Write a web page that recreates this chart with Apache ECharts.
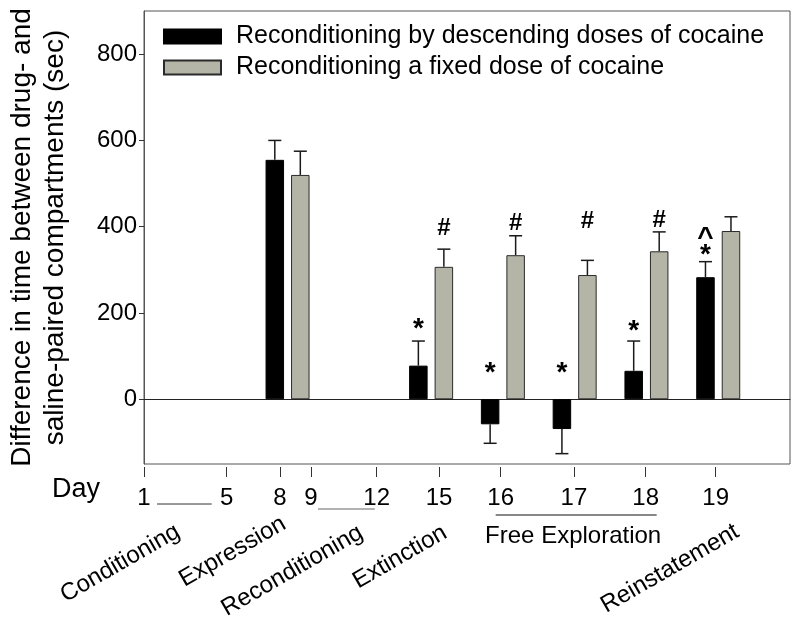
<!DOCTYPE html>
<html><head><meta charset="utf-8">
<script src="https://cdn.jsdelivr.net/npm/echarts@6/dist/echarts.min.js"></script>
<style>html,body{margin:0;padding:0;background:#fff}#c{width:800px;height:627px}</style>
</head><body><div id="c"></div>
<script>
// ---- data ----
const slots = ['', ' ', '8', '  ', '15', '16', '17', '18', '19', '   '];
const seriesNames = ['Reconditioning by descending doses of cocaine', 'Reconditioning a fixed dose of cocaine'];
const descending = [null, null, 555, null, 78, -58, -69, 66, 283, null];
const descErr    = [null, null, 45, null, 57, 44, 57, 69, 36, null];
const fixedDose  = [null, null, 520, null, 307, 334, 288, 343, 390, null];
const fixedErr   = [null, null, 55, null, 41, 45, 34, 45, 33, null];
const descMarkText = [null, null, null, null, '*', '*', '*', '*', '*', null];
const descMarkY    = [null, null, null, null, 173, 73, 73, 169, 345, null];
const caretText = [null, null, null, null, null, null, null, null, '^', null];
const caretY    = [null, null, null, null, null, null, null, null, 387, null];
const fixedMarkText = [null, null, null, null, '#', '#', '#', '#', null, null];
const fixedMarkY    = [null, null, null, null, 401, 413, 417, 420, null, null];
const yTicks = [0, 200, 400, 600, 800];
const dayTickPos = [0, 1.152, 1.895, 2.327, 3.242, 4.11, 4.969, 5.99, 6.989, 7.965];
const dayTickLabels = ['1', '5', '8', '9', '12', '15', '16', '17', '18', '19'];
const phaseLabels = ['Conditioning', 'Expression', 'Reconditioning', 'Extinction', 'Reinstatement'];
const groupLabel = 'Free Exploration';

// ---- styles ----
const FONT = "'Liberation Sans', Arial, Helvetica, sans-serif";
const BAR_W = 18.5, BAR_GAP = 7;
const OFF = (BAR_W + BAR_GAP) / 2;
const BLACK = '#000000', GRAY = '#b4b5a7';

function pairs(vals, extra) {
  const out = [];
  vals.forEach((v, i) => { if (v !== null) out.push(extra ? [i, v, extra[i]] : [i, v]); });
  return out;
}
function errRender(off) {
  return function (params, api) {
    const i = api.value(0), v = api.value(1), e = api.value(2);
    const a = api.coord([i, v]);
    const b = api.coord([i, v >= 0 ? v + e : v - e]);
    const x = a[0] + off;
    const st = { stroke: '#1a1a1a', lineWidth: 1.5 };
    return { type: 'group', children: [
      { type: 'line', shape: { x1: x, y1: a[1], x2: x, y2: b[1] }, style: st },
      { type: 'line', shape: { x1: x - 6.5, y1: b[1], x2: x + 6.5, y2: b[1] }, style: st }
    ]};
  };
}
function markRender(texts, off, size, dy) {
  const idx = [];
  texts.forEach((t, i) => { if (t !== null) idx.push(i); });
  return function (params, api) {
    const p = api.coord([api.value(0), api.value(1)]);
    return { type: 'text', x: p[0] + off, y: p[1] + dy, style: {
      text: texts[idx[params.dataIndex]], font: 'bold ' + size + 'px ' + FONT,
      fill: '#000', align: 'center', verticalAlign: 'middle' } };
  };
}

const chart = echarts.init(document.getElementById('c'), null, { renderer: 'canvas' });
const option = {
  animation: false,
  backgroundColor: '#fff',
  textStyle: { fontFamily: FONT },
  grid: { left: 144, right: 10, top: 11, bottom: 163, show: true, borderColor: '#555', borderWidth: 1,
    containLabel: false, outerBoundsMode: 'none' },
  legend: {
    orient: 'vertical', left: 163, top: 24, padding: 0, itemWidth: 57, itemHeight: 14, itemGap: 6,
    icon: 'rect', selectedMode: false,
    textStyle: { fontSize: 25, color: '#000', fontFamily: FONT, lineHeight: 25, padding: [0, 0, 0, 10] },
    data: seriesNames
  },
  xAxis: [{
    type: 'category', data: slots, boundaryGap: false,
    axisLine: { show: true, onZero: true, lineStyle: { color: '#222', width: 1 } },
    axisTick: { show: false }, axisLabel: { show: false }, splitLine: { show: false }
  }, {
    type: 'value', min: 0, max: 9, position: 'bottom', offset: 3,
    axisLine: { show: false }, splitLine: { show: false },
    axisTick: { show: true, length: 10, lineStyle: { color: '#333', width: 1 }, customValues: dayTickPos },
    axisLabel: { show: true, fontSize: 24, color: '#000', margin: 19, customValues: dayTickPos,
      formatter: function (v) { const k = dayTickPos.findIndex(p => Math.abs(p - v) < 1e-6); return k >= 0 ? dayTickLabels[k] : ''; } }
  }],
  yAxis: {
    type: 'value', min: -150, max: 900,
    name: 'Difference in time between drug- and\nsaline-paired compartments (sec)',
    nameLocation: 'middle', nameGap: 72,
    nameTextStyle: { fontSize: 28, color: '#000', lineHeight: 33, align: 'center' },
    axisLine: { show: true, lineStyle: { color: '#555' } },
    axisTick: { show: true, length: 5, inside: false, lineStyle: { color: '#333' }, customValues: yTicks },
    axisLabel: { fontSize: 24, color: '#000', margin: 7, customValues: yTicks },
    splitLine: { show: false }
  },
  series: [
    { name: seriesNames[0], type: 'bar', data: descending, barWidth: BAR_W, barGap: (BAR_GAP / BAR_W * 100) + '%',
      itemStyle: { color: BLACK, borderColor: '#000', borderWidth: 1 }, z: 2 },
    { name: seriesNames[1], type: 'bar', data: fixedDose, barWidth: BAR_W,
      itemStyle: { color: GRAY, borderColor: '#2a2a2a', borderWidth: 1 }, z: 2 },
    { type: 'custom', data: pairs(descending, descErr), renderItem: errRender(-OFF), z: 3, silent: true },
    { type: 'custom', data: pairs(fixedDose, fixedErr), renderItem: errRender(OFF), z: 3, silent: true },
    { type: 'custom', data: pairs(descMarkY), renderItem: markRender(descMarkText, -OFF, 28, 5), z: 4, silent: true },
    { type: 'custom', data: pairs(caretY), renderItem: markRender(caretText, -OFF, 28, 6), z: 4, silent: true },
    { type: 'custom', data: pairs(fixedMarkY), renderItem: markRender(fixedMarkText, OFF, 24, 2), z: 4, silent: true }
  ]
};
chart.setOption(option);

// ---- decorations below the axis, positioned from the day axis ----
function px(v) { return chart.convertToPixel({ xAxisIndex: 1 }, v); }
const tfont = '24px ' + FONT;
const g = [];
g.push({ type: 'text', x: 76, y: 490, style: { text: 'Day', font: '27px ' + FONT, fill: '#000', align: 'center', verticalAlign: 'middle' } });
g.push({ type: 'line', shape: { x1: px(dayTickPos[0]) + 13, y1: 504, x2: px(dayTickPos[1]) - 15, y2: 504 }, style: { stroke: '#333', lineWidth: 1 } });
g.push({ type: 'line', shape: { x1: px(dayTickPos[3]) + 7, y1: 509, x2: px(dayTickPos[4]) - 2, y2: 509 }, style: { stroke: '#666', lineWidth: 1.2 } });
g.push({ type: 'line', shape: { x1: px(dayTickPos[6]) - 5, y1: 515, x2: px(dayTickPos[8]) + 11, y2: 515 }, style: { stroke: '#888', lineWidth: 2 } });
g.push({ type: 'text', x: (px(dayTickPos[6]) + px(dayTickPos[8])) / 2, y: 536, style: { text: groupLabel, font: tfont, fill: '#000', align: 'center', verticalAlign: 'middle' } });
const phaseAnchors = [[178, 530], [284, 522], [361, 531], [445, 531], [737, 530]];
phaseLabels.forEach((t, k) => {
  g.push({ type: 'text', x: phaseAnchors[k][0], y: phaseAnchors[k][1], rotation: Math.PI / 6,
    style: { text: t, font: tfont, fill: '#000', align: 'right', verticalAlign: 'middle' } });
});
chart.setOption({ graphic: g });
</script>
</body></html>
